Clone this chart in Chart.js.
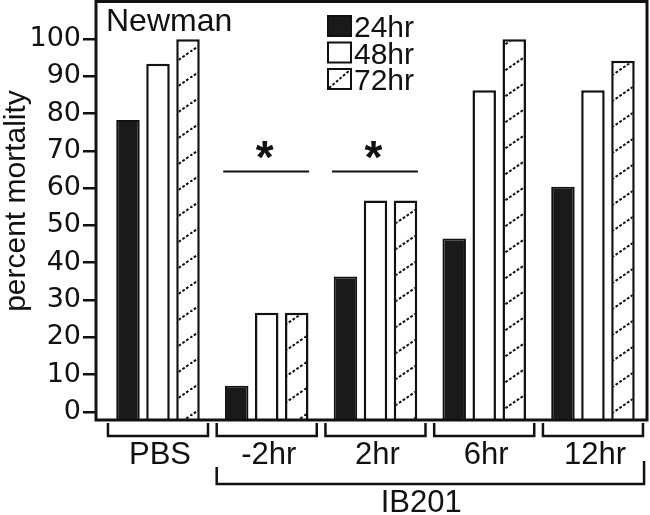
<!DOCTYPE html>
<html>
<head>
<meta charset="utf-8">
<script src="https://cdn.jsdelivr.net/npm/chart.js@4.4.1/dist/chart.umd.min.js"></script>
<style>
  html, body { margin: 0; padding: 0; background: #fff; }
</style>
</head>
<body>
<canvas id="mortalityChart" width="650" height="515"></canvas>
<script>
// groups along the x axis
var groups = ['PBS', '-2hr', '2hr', '6hr', '12hr'];
var treatedLabel = 'IB201';
var treatedGroups = [1, 2, 3, 4];

// percent mortality for each time point
var hr24 = [78.3, 7.0, 36.3, 46.5, 60.4];
var hr48 = [93.4, 26.6, 56.7, 86.3, 86.3];
var hr72 = [100, 26.6, 56.7, 100, 94.2];

// groups marked with * and the height of the bar over them
var sigGroups = [1, 2];
var sigLevel = 64.5;

var yTicks = [0, 10, 20, 30, 40, 50, 60, 70, 80, 90, 100];
var yTitle = 'percent mortality';

var ink = '#111';

function makeHatch() {
    var c = document.createElement('canvas');
    c.width = 38;
    c.height = 26;
    var g = c.getContext('2d');
    g.fillStyle = '#fff';
    g.fillRect(0, 0, 38, 26);
    g.strokeStyle = ink;
    g.lineWidth = 2;
    g.setLineDash([2.8, 1.8]);
    g.beginPath();
    g.moveTo(0, 26);
    g.lineTo(38, 0);
    g.stroke();
    return g.createPattern(c, 'repeat');
}

function points(vals) {
    return vals.map(function (v, i) { return { x: i, y: v }; });
}

var decor = {
    id: 'decor',
    afterDatasetsDraw: function (chart) {
        var c = chart.ctx, a = chart.chartArea;
        var xs = chart.scales.x, ys = chart.scales.y;
        c.save();
        c.strokeStyle = ink;
        c.fillStyle = ink;

        // frame
        c.lineWidth = 3;
        c.strokeRect(a.left, a.top, a.right - a.left, a.bottom - a.top);

        // y axis title
        c.save();
        c.translate(16.5, 201);
        c.rotate(-Math.PI / 2);
        c.font = '30px "Liberation Sans"';
        c.textAlign = 'center';
        c.textBaseline = 'middle';
        c.fillText(yTitle, 0, 0);
        c.restore();

        // strain name
        c.font = '32px "Liberation Sans"';
        c.textAlign = 'left';
        c.textBaseline = 'alphabetic';
        c.fillText('Newman', 106, 31);

        // legend
        c.font = '30px "Liberation Sans"';
        chart.data.datasets.forEach(function (ds, i) {
            var bx = 327, by = 15 + i * 26.5;
            c.fillStyle = i === 2 ? '#fff' : ds.backgroundColor;
            c.fillRect(bx, by, 25, 22);
            c.lineWidth = 2;
            c.strokeRect(bx + 1, by + 1, 23, 20);
            if (i === 2) {
                c.save();
                c.lineWidth = 2;
                c.setLineDash([2.8, 1.8]);
                c.beginPath();
                c.moveTo(bx + 2, by + 20);
                c.lineTo(bx + 23, by + 2);
                c.stroke();
                c.restore();
            }
            c.fillStyle = ink;
            c.fillText(ds.label, bx + 27, by + 22);
        });

        // significance bars
        c.lineWidth = 2;
        sigGroups.forEach(function (g) {
            var yl = ys.getPixelForValue(sigLevel);
            c.beginPath();
            c.moveTo(xs.getPixelForValue(g - 0.4), yl);
            c.lineTo(xs.getPixelForValue(g + 0.39), yl);
            c.stroke();
            c.font = 'bold 46px "Liberation Sans"';
            c.textAlign = 'center';
            c.fillText('*', xs.getPixelForValue(g) - 2, yl + 2);
        });

        // group brackets and labels
        c.lineWidth = 2.5;
        c.font = '31px "Liberation Sans"';
        c.textAlign = 'center';
        c.textBaseline = 'middle';
        groups.forEach(function (name, i) {
            var l = xs.getPixelForValue(i - 0.46), r = xs.getPixelForValue(i + 0.46);
            c.beginPath();
            c.moveTo(l, 423);
            c.lineTo(l, 436);
            c.lineTo(r, 436);
            c.lineTo(r, 423);
            c.stroke();
            c.fillText(name, xs.getPixelForValue(i) + 2, 455);
        });

        // treated bracket
        var tl = xs.getPixelForValue(treatedGroups[0] - 0.46);
        var tr = xs.getPixelForValue(treatedGroups[treatedGroups.length - 1] + 0.47);
        c.beginPath();
        c.moveTo(tl, 467);
        c.lineTo(tl, 484);
        c.lineTo(tr, 484);
        c.lineTo(tr, 461);
        c.stroke();
        c.textBaseline = 'alphabetic';
        c.fillText(treatedLabel, xs.getPixelForValue(2.42), 512);

        c.restore();
    }
};

document.addEventListener('DOMContentLoaded', function () {
    var ctx = document.getElementById('mortalityChart').getContext('2d');
    var hatch = makeHatch();
    var mortalityChart = new Chart(ctx, {
        type: 'bar',
        data: {
            datasets: [{
                label: '24hr',
                data: points(hr24),
                backgroundColor: '#1a1a1a',
                borderColor: ink,
                borderWidth: 2
            }, {
                label: '48hr',
                data: points(hr48),
                backgroundColor: '#fff',
                borderColor: ink,
                borderWidth: 2.5
            }, {
                label: '72hr',
                data: points(hr72),
                backgroundColor: hatch,
                borderColor: ink,
                borderWidth: 2.5
            }]
        },
        options: {
            responsive: false,
            animation: false,
            layout: { padding: { top: 1.5, right: 3, bottom: 95, left: 0 } },
            datasets: {
                bar: { base: -2.2, categoryPercentage: 0.828, barPercentage: 0.783 }
            },
            scales: {
                x: {
                    type: 'linear',
                    min: -0.57,
                    max: 4.497,
                    offset: false,
                    display: false,
                    afterBuildTicks: function (s) {
                        s.ticks = groups.map(function (g, i) { return { value: i }; });
                    }
                },
                y: {
                    min: -2.2,
                    max: 110.1,
                    afterBuildTicks: function (s) {
                        s.ticks = yTicks.map(function (v) { return { value: v }; });
                    },
                    afterFit: function (s) {
                        s.width = 96;
                        s.paddingTop = 0;
                        s.paddingBottom = 0;
                    },
                    border: { display: false },
                    grid: { drawOnChartArea: false, tickLength: 13, lineWidth: 2.5, color: ink },
                    ticks: { padding: 2, color: ink, font: { family: 'DejaVu Sans', size: 27 } }
                }
            },
            plugins: {
                legend: { display: false },
                tooltip: { enabled: false }
            }
        },
        plugins: [decor]
    });
});
</script>
</body>
</html>
